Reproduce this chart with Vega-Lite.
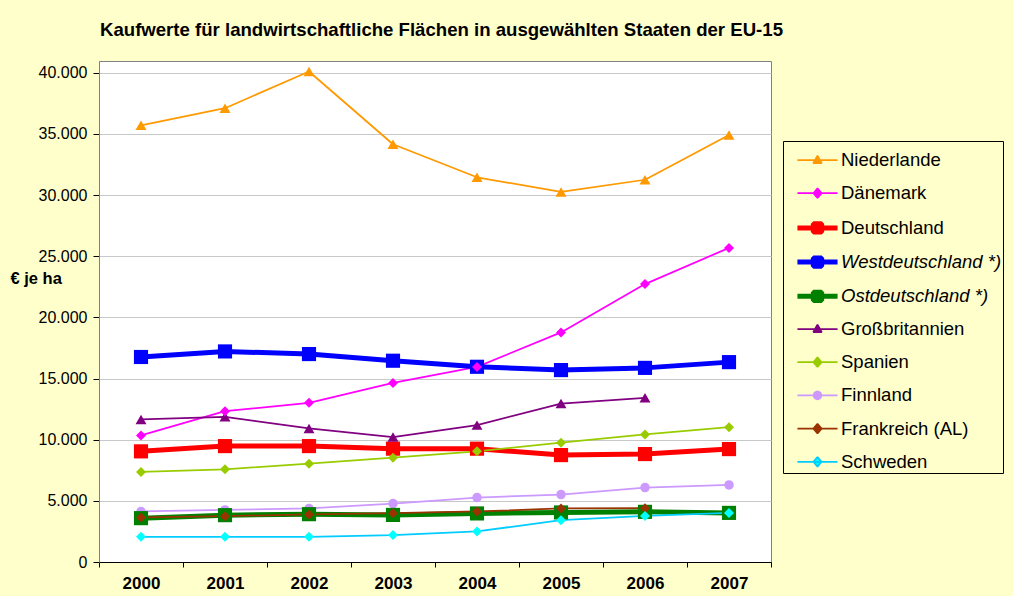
{
  "$schema": "https://vega.github.io/schema/vega-lite/v6.json",
  "width": 672,
  "height": 501,
  "autosize": {"type": "none"},
  "padding": {"left": 99, "top": 61, "right": 242, "bottom": 34},
  "background": "#FFFFCC",
  "title": {
    "text": "Kaufwerte für landwirtschaftliche Flächen in ausgewählten Staaten der EU-15",
    "anchor": "start",
    "frame": "group",
    "offset": 6,
    "baseline": "alphabetic",
    "fontSize": 18.6,
    "fontWeight": "bold",
    "font": "Liberation Sans",
    "color": "black",
    "dx": 1
  },
  "data": {
    "values": [
      {"Land": "Niederlande", "Jahr": "2000", "Wert": 35700},
      {"Land": "Niederlande", "Jahr": "2001", "Wert": 37100},
      {"Land": "Niederlande", "Jahr": "2002", "Wert": 40100},
      {"Land": "Niederlande", "Jahr": "2003", "Wert": 34150},
      {"Land": "Niederlande", "Jahr": "2004", "Wert": 31450},
      {"Land": "Niederlande", "Jahr": "2005", "Wert": 30250},
      {"Land": "Niederlande", "Jahr": "2006", "Wert": 31250},
      {"Land": "Niederlande", "Jahr": "2007", "Wert": 34900},
      {"Land": "Dänemark", "Jahr": "2000", "Wert": 10350},
      {"Land": "Dänemark", "Jahr": "2001", "Wert": 12330},
      {"Land": "Dänemark", "Jahr": "2002", "Wert": 13010},
      {"Land": "Dänemark", "Jahr": "2003", "Wert": 14640},
      {"Land": "Dänemark", "Jahr": "2004", "Wert": 15950},
      {"Land": "Dänemark", "Jahr": "2005", "Wert": 18770},
      {"Land": "Dänemark", "Jahr": "2006", "Wert": 22720},
      {"Land": "Dänemark", "Jahr": "2007", "Wert": 25680},
      {"Land": "Deutschland", "Jahr": "2000", "Wert": 9045},
      {"Land": "Deutschland", "Jahr": "2001", "Wert": 9475},
      {"Land": "Deutschland", "Jahr": "2002", "Wert": 9475},
      {"Land": "Deutschland", "Jahr": "2003", "Wert": 9265},
      {"Land": "Deutschland", "Jahr": "2004", "Wert": 9265},
      {"Land": "Deutschland", "Jahr": "2005", "Wert": 8740},
      {"Land": "Deutschland", "Jahr": "2006", "Wert": 8825},
      {"Land": "Deutschland", "Jahr": "2007", "Wert": 9230},
      {"Land": "Westdeutschland *)", "Jahr": "2000", "Wert": 16760},
      {"Land": "Westdeutschland *)", "Jahr": "2001", "Wert": 17215},
      {"Land": "Westdeutschland *)", "Jahr": "2002", "Wert": 17000},
      {"Land": "Westdeutschland *)", "Jahr": "2003", "Wert": 16455},
      {"Land": "Westdeutschland *)", "Jahr": "2004", "Wert": 15960},
      {"Land": "Westdeutschland *)", "Jahr": "2005", "Wert": 15690},
      {"Land": "Westdeutschland *)", "Jahr": "2006", "Wert": 15870},
      {"Land": "Westdeutschland *)", "Jahr": "2007", "Wert": 16340},
      {"Land": "Ostdeutschland *)", "Jahr": "2000", "Wert": 3585},
      {"Land": "Ostdeutschland *)", "Jahr": "2001", "Wert": 3830},
      {"Land": "Ostdeutschland *)", "Jahr": "2002", "Wert": 3910},
      {"Land": "Ostdeutschland *)", "Jahr": "2003", "Wert": 3850},
      {"Land": "Ostdeutschland *)", "Jahr": "2004", "Wert": 3970},
      {"Land": "Ostdeutschland *)", "Jahr": "2005", "Wert": 4050},
      {"Land": "Ostdeutschland *)", "Jahr": "2006", "Wert": 4100},
      {"Land": "Ostdeutschland *)", "Jahr": "2007", "Wert": 4015},
      {"Land": "Großbritannien", "Jahr": "2000", "Wert": 11650},
      {"Land": "Großbritannien", "Jahr": "2001", "Wert": 11870},
      {"Land": "Großbritannien", "Jahr": "2002", "Wert": 10920},
      {"Land": "Großbritannien", "Jahr": "2003", "Wert": 10210},
      {"Land": "Großbritannien", "Jahr": "2004", "Wert": 11190},
      {"Land": "Großbritannien", "Jahr": "2005", "Wert": 12950},
      {"Land": "Großbritannien", "Jahr": "2006", "Wert": 13420},
      {"Land": "Spanien", "Jahr": "2000", "Wert": 7360},
      {"Land": "Spanien", "Jahr": "2001", "Wert": 7575},
      {"Land": "Spanien", "Jahr": "2002", "Wert": 8040},
      {"Land": "Spanien", "Jahr": "2003", "Wert": 8530},
      {"Land": "Spanien", "Jahr": "2004", "Wert": 9045},
      {"Land": "Spanien", "Jahr": "2005", "Wert": 9750},
      {"Land": "Spanien", "Jahr": "2006", "Wert": 10430},
      {"Land": "Spanien", "Jahr": "2007", "Wert": 11025},
      {"Land": "Finnland", "Jahr": "2000", "Wert": 4130},
      {"Land": "Finnland", "Jahr": "2001", "Wert": 4260},
      {"Land": "Finnland", "Jahr": "2002", "Wert": 4375},
      {"Land": "Finnland", "Jahr": "2003", "Wert": 4780},
      {"Land": "Finnland", "Jahr": "2004", "Wert": 5270},
      {"Land": "Finnland", "Jahr": "2005", "Wert": 5515},
      {"Land": "Finnland", "Jahr": "2006", "Wert": 6085},
      {"Land": "Finnland", "Jahr": "2007", "Wert": 6300},
      {"Land": "Frankreich (AL)", "Jahr": "2000", "Wert": 3640},
      {"Land": "Frankreich (AL)", "Jahr": "2001", "Wert": 3750},
      {"Land": "Frankreich (AL)", "Jahr": "2002", "Wert": 3890},
      {"Land": "Frankreich (AL)", "Jahr": "2003", "Wert": 3990},
      {"Land": "Frankreich (AL)", "Jahr": "2004", "Wert": 4130},
      {"Land": "Frankreich (AL)", "Jahr": "2005", "Wert": 4375},
      {"Land": "Frankreich (AL)", "Jahr": "2006", "Wert": 4400},
      {"Land": "Schweden", "Jahr": "2000", "Wert": 2060},
      {"Land": "Schweden", "Jahr": "2001", "Wert": 2060},
      {"Land": "Schweden", "Jahr": "2002", "Wert": 2060},
      {"Land": "Schweden", "Jahr": "2003", "Wert": 2200},
      {"Land": "Schweden", "Jahr": "2004", "Wert": 2500},
      {"Land": "Schweden", "Jahr": "2005", "Wert": 3420},
      {"Land": "Schweden", "Jahr": "2006", "Wert": 3770},
      {"Land": "Schweden", "Jahr": "2007", "Wert": 4015}
    ]
  },
  "encoding": {
    "x": {
      "field": "Jahr",
      "type": "ordinal",
      "scale": {"type": "band", "paddingInner": 0, "paddingOuter": 0},
      "axis": {
        "title": null,
        "labelAngle": 0,
        "tickBand": "extent",
        "labelFontSize": 17,
        "labelFontWeight": "bold",
        "labelColor": "black",
        "labelPadding": 8,
        "tickSize": 5,
        "tickColor": "black",
        "domainColor": "black",
        "grid": false
      }
    },
    "y": {
      "field": "Wert",
      "type": "quantitative",
      "scale": {"domain": [0, 40958], "nice": false, "zero": true},
      "axis": {
        "values": [0, 5000, 10000, 15000, 20000, 25000, 30000, 35000, 40000],
        "labelExpr": "replace(format(datum.value, ','), ',', '.')",
        "grid": true,
        "gridColor": "#C8C8C8",
        "gridWidth": 1,
        "tickColor": "black",
        "tickSize": 6,
        "labelPadding": 6,
        "labelFontSize": 16,
        "labelColor": "black",
        "domainColor": "#808080",
        "title": "€ je ha",
        "titleAngle": 0,
        "titleX": -89,
        "titleY": 217,
        "titleAlign": "left",
        "titleBaseline": "middle",
        "titleFontSize": 16.5,
        "titleFontWeight": "bold",
        "titleColor": "black"
      }
    }
  },
  "layer": [
    {
      "mark": {"type": "line", "strokeJoin": "round"},
      "encoding": {
        "color": {
          "field": "Land",
          "type": "nominal",
          "scale": {
            "domain": ["Niederlande", "Dänemark", "Deutschland", "Westdeutschland *)", "Ostdeutschland *)", "Großbritannien", "Spanien", "Finnland", "Frankreich (AL)", "Schweden"],
            "range": ["#FF9900", "#FF00FF", "#FF0000", "#0000FF", "#008000", "#800080", "#99CC00", "#CC99FF", "#993300", "#00CCFF"]
          },
          "legend": {
            "title": null,
            "orient": "none",
            "legendX": 684,
            "legendY": 80,
            "strokeColor": "black",
            "fillColor": "#FFFFCC",
            "padding": 1,
            "symbolSize": 1156,
            "symbolOffset": 14,
            "labelOffset": 4,
            "rowPadding": 5.2,
            "labelFontSize": 18.5,
            "labelColor": "black",
            "labelLimit": 300,
            "symbolOpacity": 1,
            "encode": {
              "symbols": {
                "update": {
                  "shape": {"signal": "datum.value==='Niederlande'||datum.value==='Großbritannien' ? 'M-1.18,0H1.18M0,-0.26L0.25,0.19L-0.25,0.19Z' : (datum.value==='Finnland' ? 'M-1.18,0H1.18M-0.24,0L-0.17,-0.17L0,-0.24L0.17,-0.17L0.24,0L0.17,0.17L0,0.24L-0.17,0.17Z' : (test(/eutschland/, datum.value) ? 'M-1.18,0H1.18M-0.245,-0.245H0.245V0.245H-0.245Z' : 'M-1.18,0H1.18M0,-0.28L0.24,0L0,0.28L-0.24,0Z'))"},
                  "strokeWidth": {"signal": "test(/eutschland/, datum.value) ? 5 : 1.75"},
                  "strokeJoin": {"value": "bevel"},
                  "fill": {"signal": "scale('fill', datum.value)"}
                }
              },
              "labels": {
                "update": {
                  "fontStyle": {"signal": "indexof(datum.label, '*)') >= 0 ? 'italic' : 'normal'"}
                }
              }
            }
          }
        },
        "strokeWidth": {
          "field": "Land",
          "type": "nominal",
          "scale": {
            "type": "ordinal",
            "domain": ["Niederlande", "Dänemark", "Deutschland", "Westdeutschland *)", "Ostdeutschland *)", "Großbritannien", "Spanien", "Finnland", "Frankreich (AL)", "Schweden"],
            "range": [1.75, 1.75, 5, 5, 5, 1.75, 1.75, 1.75, 1.75, 1.75]
          },
          "legend": null
        }
      }
    },
    {
      "transform": [{"filter": {"field": "Land", "oneOf": ["Finnland"]}}],
      "mark": {"type": "point", "filled": true, "opacity": 1, "shape": "circle", "size": 90},
      "encoding": {
        "fill": {
          "field": "Land",
          "type": "nominal",
          "scale": {
            "domain": ["Niederlande", "Dänemark", "Deutschland", "Westdeutschland *)", "Ostdeutschland *)", "Großbritannien", "Spanien", "Finnland", "Frankreich (AL)", "Schweden"],
            "range": ["#FF9900", "#FF00FF", "#FF0000", "#0000FF", "#008000", "#800080", "#99CC00", "#CC99FF", "#993300", "#00FFFF"]
          },
          "legend": null
        }
      }
    },
    {
      "transform": [{"filter": {"field": "Land", "oneOf": ["Deutschland", "Westdeutschland *)", "Ostdeutschland *)"]}}],
      "mark": {"type": "point", "filled": true, "opacity": 1, "shape": "square", "size": 200},
      "encoding": {
        "fill": {
          "field": "Land",
          "type": "nominal",
          "scale": {
            "domain": ["Niederlande", "Dänemark", "Deutschland", "Westdeutschland *)", "Ostdeutschland *)", "Großbritannien", "Spanien", "Finnland", "Frankreich (AL)", "Schweden"],
            "range": ["#FF9900", "#FF00FF", "#FF0000", "#0000FF", "#008000", "#800080", "#99CC00", "#CC99FF", "#993300", "#00FFFF"]
          },
          "legend": null
        }
      }
    },
    {
      "transform": [{"filter": {"field": "Land", "oneOf": ["Niederlande", "Großbritannien"]}}],
      "mark": {"type": "point", "filled": true, "opacity": 1, "shape": "triangle-up", "size": 120},
      "encoding": {
        "fill": {
          "field": "Land",
          "type": "nominal",
          "scale": {
            "domain": ["Niederlande", "Dänemark", "Deutschland", "Westdeutschland *)", "Ostdeutschland *)", "Großbritannien", "Spanien", "Finnland", "Frankreich (AL)", "Schweden"],
            "range": ["#FF9900", "#FF00FF", "#FF0000", "#0000FF", "#008000", "#800080", "#99CC00", "#CC99FF", "#993300", "#00FFFF"]
          },
          "legend": null
        }
      }
    },
    {
      "transform": [{"filter": {"field": "Land", "oneOf": ["Dänemark", "Spanien", "Frankreich (AL)", "Schweden"]}}],
      "mark": {"type": "point", "filled": true, "opacity": 1, "shape": "diamond", "size": 100},
      "encoding": {
        "fill": {
          "field": "Land",
          "type": "nominal",
          "scale": {
            "domain": ["Niederlande", "Dänemark", "Deutschland", "Westdeutschland *)", "Ostdeutschland *)", "Großbritannien", "Spanien", "Finnland", "Frankreich (AL)", "Schweden"],
            "range": ["#FF9900", "#FF00FF", "#FF0000", "#0000FF", "#008000", "#800080", "#99CC00", "#CC99FF", "#993300", "#00FFFF"]
          },
          "legend": null
        }
      }
    }
  ],
  "config": {
    "font": "Liberation Sans",
    "view": {"stroke": "#808080", "fill": "white"}
  }
}
